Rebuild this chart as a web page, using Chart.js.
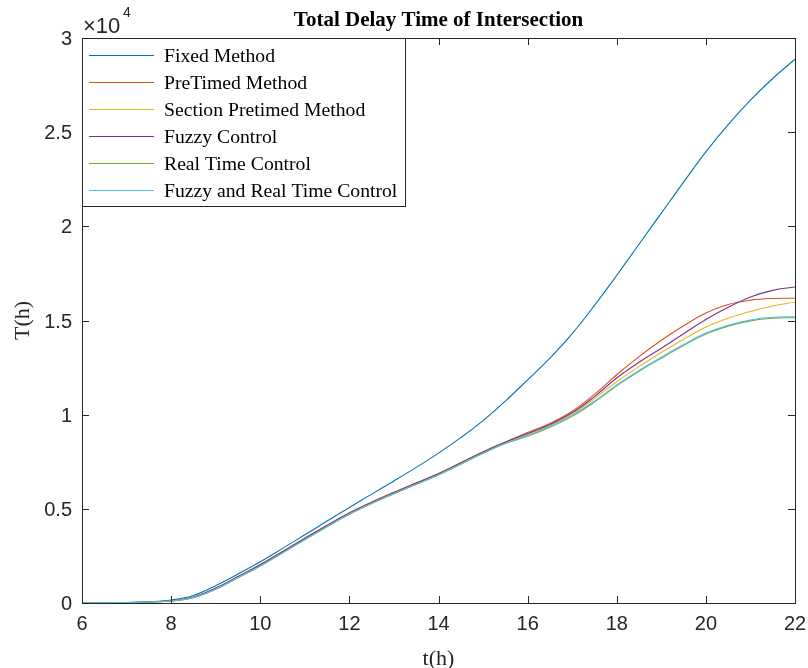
<!DOCTYPE html>
<html>
<head>
<meta charset="utf-8">
<script src="https://cdn.jsdelivr.net/npm/chart.js@4.4.1/dist/chart.umd.min.js"></script>
<style>
  html, body { margin: 0; padding: 0; background: #ffffff; }
  #wrap { width: 808px; height: 668px; }
</style>
</head>
<body>
<div id="wrap"><canvas id="c" width="808" height="668"></canvas></div>
<script>
const hours = [6, 6.5, 7, 7.5, 8, 8.5, 9, 9.5, 10, 10.5, 11, 11.5, 12, 12.5, 13, 13.5, 14, 14.5, 15, 15.5, 16, 16.5, 17, 17.5, 18, 18.5, 19, 19.5, 20, 20.5, 21, 21.5, 22];

const fixedMethod = [0, 10, 30, 65, 160, 400, 920, 1540, 2190, 2900, 3620, 4350, 5070, 5780, 6480, 7200, 7960, 8780, 9680, 10720, 11850, 13000, 14300, 15800, 17400, 19050, 20700, 22350, 23950, 25400, 26700, 27850, 28870];
const preTimed    = [0, 10, 25, 55, 125, 320, 790, 1410, 2040, 2740, 3440, 4130, 4790, 5360, 5880, 6380, 6880, 7450, 8030, 8550, 9050, 9530, 10180, 11080, 12120, 13080, 13950, 14720, 15400, 15850, 16080, 16170, 16180];
const sectionPre  = [0, 10, 25, 50, 110, 295, 750, 1360, 1980, 2680, 3380, 4070, 4730, 5300, 5820, 6320, 6820, 7390, 7970, 8490, 8950, 9430, 10030, 10850, 11750, 12550, 13300, 14000, 14650, 15120, 15480, 15770, 15980];
const fuzzy       = [0, 10, 25, 55, 120, 310, 780, 1395, 2020, 2720, 3420, 4110, 4770, 5340, 5860, 6360, 6860, 7430, 8010, 8530, 9000, 9480, 10100, 10960, 11950, 12780, 13530, 14300, 15050, 15700, 16250, 16600, 16780];
const realTime    = [0, 10, 25, 50, 105, 285, 730, 1340, 1960, 2660, 3360, 4050, 4710, 5280, 5800, 6300, 6800, 7370, 7950, 8470, 8850, 9330, 9910, 10670, 11530, 12300, 13000, 13670, 14280, 14700, 14980, 15120, 15150];
const fuzzyReal   = [0, 10, 25, 50, 108, 290, 740, 1350, 1970, 2670, 3370, 4060, 4720, 5290, 5810, 6310, 6810, 7380, 7960, 8480, 8900, 9380, 9960, 10720, 11580, 12350, 13050, 13720, 14330, 14750, 15030, 15170, 15200];

const seriesNames = ["Fixed Method", "PreTimed Method", "Section Pretimed Method", "Fuzzy Control", "Real Time Control", "Fuzzy and Real Time Control"];
const seriesColors = ["#0072BD", "#D95319", "#EDB120", "#7E2F8E", "#77AC30", "#4DBEEE"];
const seriesValues = [fixedMethod, preTimed, sectionPre, fuzzy, realTime, fuzzyReal];

const xTicks = [6, 8, 10, 12, 14, 16, 18, 20, 22];
const xTickLabels = ["6", "8", "10", "12", "14", "16", "18", "20", "22"];
const yTicks = [0, 5000, 10000, 15000, 20000, 25000, 30000];
const yTickLabels = ["0", "0.5", "1", "1.5", "2", "2.5", "3"];

const titleText = "Total Delay Time of Intersection";
const xLabel = "t(h)";
const yLabel = "T(h)";

const AX = "#262626";
const SANS = "'Liberation Sans', Arial, Helvetica, sans-serif";
const SERIF = "'Liberation Serif', 'Times New Roman', serif";

const datasets = seriesValues.map((vals, i) => ({
  label: seriesNames[i],
  data: hours.map((h, k) => ({ x: h, y: vals[k] })),
  borderColor: seriesColors[i],
  backgroundColor: seriesColors[i],
  borderWidth: 1.1,
  pointRadius: 0,
  fill: false,
  tension: 0.4,
  order: seriesNames.length - i
}));

const decor = {
  id: "decor",
  afterDraw(chart) {
    const ctx = chart.ctx;
    const a = chart.chartArea;
    const xs = chart.scales.x, ys = chart.scales.y;
    ctx.save();
    // box
    ctx.strokeStyle = AX;
    ctx.lineWidth = 1;
    ctx.strokeRect(Math.round(a.left) + 0.5, Math.round(a.top) + 0.5, Math.round(a.right - a.left), Math.round(a.bottom - a.top));
    // ticks inward
    const tl = 7;
    ctx.beginPath();
    xTicks.forEach(v => {
      const px = Math.round(xs.getPixelForValue(v)) + 0.5;
      ctx.moveTo(px, a.bottom); ctx.lineTo(px, a.bottom - tl);
      ctx.moveTo(px, a.top); ctx.lineTo(px, a.top + tl);
    });
    yTicks.forEach(v => {
      const py = Math.round(ys.getPixelForValue(v)) + 0.5;
      ctx.moveTo(a.left, py); ctx.lineTo(a.left + tl, py);
      ctx.moveTo(a.right, py); ctx.lineTo(a.right - tl, py);
    });
    ctx.stroke();

    // tick labels
    ctx.fillStyle = AX;
    ctx.font = "20px " + SANS;
    ctx.textBaseline = "alphabetic";
    ctx.textAlign = "center";
    xTicks.forEach((v, i) => {
      ctx.fillText(xTickLabels[i], xs.getPixelForValue(v), 630);
    });
    ctx.textAlign = "right";
    yTicks.forEach((v, i) => {
      ctx.fillText(yTickLabels[i], a.left - 10, ys.getPixelForValue(v) + 7);
    });

    // title
    ctx.fillStyle = "#000";
    ctx.font = "bold 21px " + SERIF;
    ctx.textAlign = "center";
    ctx.fillText(titleText, (a.left + a.right) / 2, 26);

    // axis labels
    ctx.fillStyle = AX;
    ctx.font = "22px " + SERIF;
    ctx.fillText(xLabel, (a.left + a.right) / 2, 665);
    ctx.save();
    ctx.translate(29, (a.top + a.bottom) / 2);
    ctx.rotate(-Math.PI / 2);
    ctx.fillText(yLabel, 0, 0);
    ctx.restore();

    // exponent
    ctx.textAlign = "left";
    ctx.font = "22px " + SANS;
    ctx.fillText("\u00d710", 83, 33);
    ctx.font = "14px " + SANS;
    ctx.fillText("4", 123, 17);

    // legend
    const lx = a.left, ly = a.top, lw = 405 - a.left, lh = 206 - a.top;
    ctx.fillStyle = "#fff";
    ctx.fillRect(lx, ly, lw, lh);
    ctx.strokeStyle = AX;
    ctx.strokeRect(Math.round(lx) + 0.5, Math.round(ly) + 0.5, Math.round(lw), Math.round(lh));
    ctx.font = "19.7px " + SERIF;
    ctx.textBaseline = "middle";
    chart.data.datasets.forEach((ds, i) => {
      const y = Math.round(ly + 17 + i * 27) + 0.5;
      ctx.strokeStyle = ds.borderColor;
      ctx.lineWidth = 1;
      ctx.beginPath();
      ctx.moveTo(lx + 7, y); ctx.lineTo(lx + 72, y);
      ctx.stroke();
      ctx.fillStyle = "#000";
      ctx.fillText(ds.label, lx + 82, y + 1);
    });
    ctx.restore();
  }
};

new Chart(document.getElementById("c"), {
  type: "line",
  data: { datasets },
  options: {
    responsive: false,
    animation: false,
    layout: { padding: { left: 0, right: 13, top: 38, bottom: 0 } },
    plugins: { legend: { display: false }, title: { display: false }, tooltip: { enabled: false } },
    scales: {
      x: {
        type: "linear", min: 6, max: 22,
        afterBuildTicks: s => { s.ticks = xTicks.map(v => ({ value: v })); },
        afterFit: s => { s.height = 65; },
        grid: { display: false, drawTicks: false },
        border: { display: false },
        ticks: { display: false }
      },
      y: {
        type: "linear", min: 0, max: 30000,
        afterBuildTicks: s => { s.ticks = yTicks.map(v => ({ value: v })); },
        afterFit: s => { s.width = 82; },
        grid: { display: false, drawTicks: false },
        border: { display: false },
        ticks: { display: false }
      }
    }
  },
  plugins: [decor]
});
</script>
</body>
</html>
